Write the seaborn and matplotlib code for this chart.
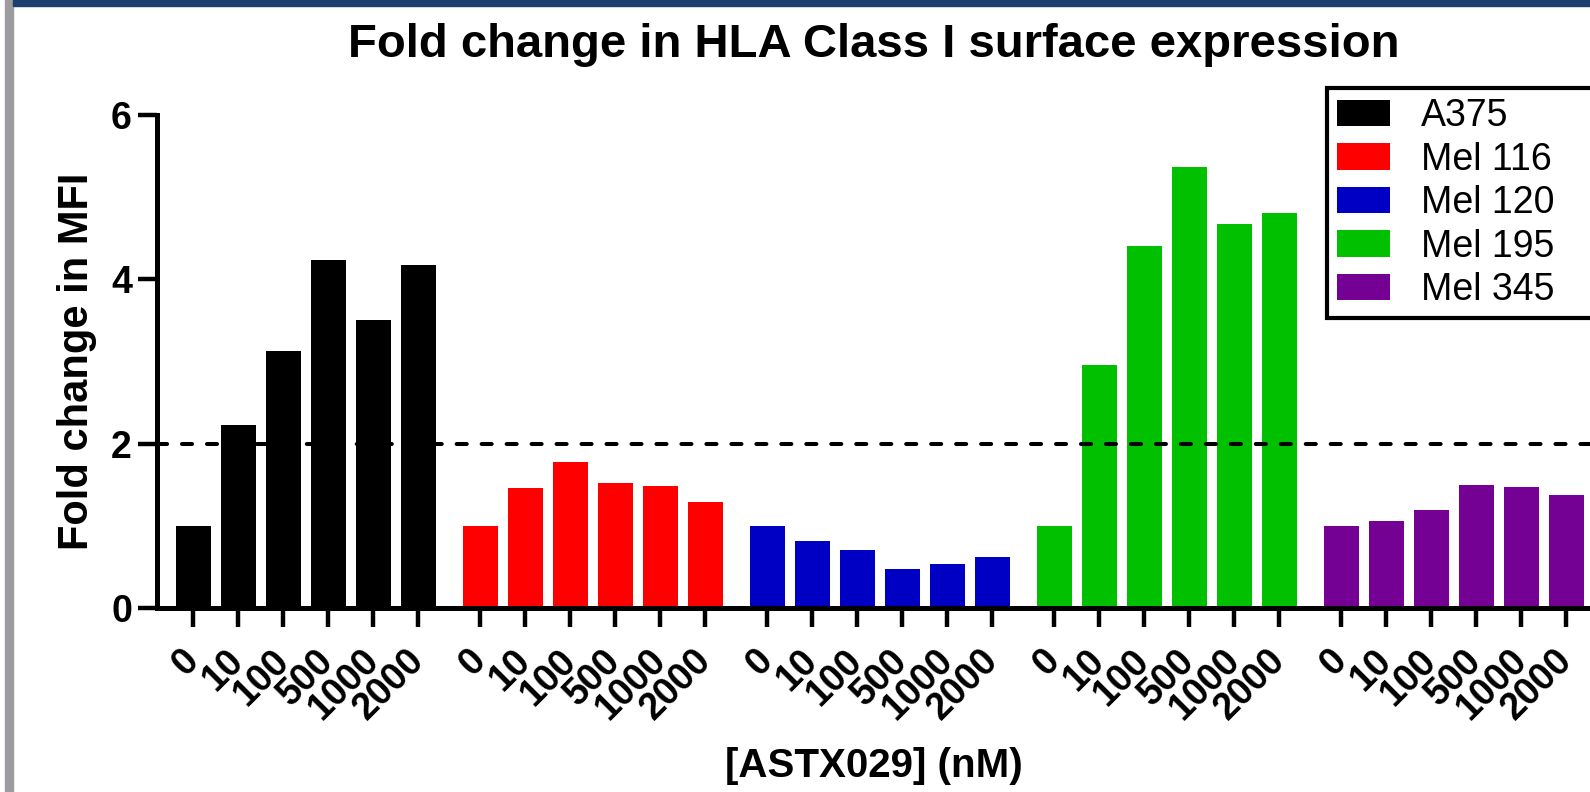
import numpy as np
import pandas as pd
import matplotlib
matplotlib.use("Agg")
import matplotlib.pyplot as plt
from matplotlib.patches import Rectangle
from matplotlib.transforms import ScaledTranslation
import seaborn as sns

# ---- data ----
cell_lines = ["A375", "Mel 116", "Mel 120", "Mel 195", "Mel 345"]
doses = ["0", "10", "100", "500", "1000", "2000"]
a375 = [1.00, 2.23, 3.13, 4.23, 3.51, 4.18]
mel116 = [1.00, 1.46, 1.78, 1.52, 1.49, 1.29]
mel120 = [1.00, 0.82, 0.71, 0.48, 0.54, 0.62]
mel195 = [1.00, 2.96, 4.41, 5.37, 4.67, 4.81]
mel345 = [1.00, 1.06, 1.19, 1.50, 1.47, 1.37]
colors = ["#000000", "#FF0000", "#0000C4", "#00C000", "#750094"]
threshold = 2.0

series = [a375, mel116, mel120, mel195, mel345]
group_step = len(doses) + 0.375
rows = []
for g, (name, vals) in enumerate(zip(cell_lines, series)):
    for i, (d, v) in enumerate(zip(doses, vals)):
        rows.append({"cell": name, "dose": d, "pos": g * group_step + i, "value": v})
df = pd.DataFrame(rows)

sns.set_theme(style="white")
plt.rcParams["font.family"] = ["Liberation Sans", "DejaVu Sans"]
plt.rcParams["text.color"] = "black"
plt.rcParams["axes.labelcolor"] = "black"
plt.rcParams["xtick.color"] = "black"
plt.rcParams["ytick.color"] = "black"

W, H = 1590, 792
fig = plt.figure(figsize=(W / 100, H / 100), dpi=100)
ax_left, ax_right, ax_bottom, ax_top = 157, 1590, 608, 115
ax = fig.add_axes([ax_left / W, 1 - ax_bottom / H, (ax_right - ax_left) / W, (ax_bottom - ax_top) / H])

sns.barplot(data=df, x="pos", y="value", hue="cell", hue_order=cell_lines,
            palette=colors, native_scale=True, dodge=False, width=0.78,
            saturation=1, errorbar=None, ax=ax, linewidth=0)

ax.axhline(threshold, color="black", lw=2.9, dashes=(2.5, 3.7),
           dash_capstyle="round", zorder=3)

ax.set_ylim(0, 6)
ax.set_yticks([0, 2, 4, 6])
ax.set_xlim(-0.81, 31.03)
ax.set_xticks(df["pos"].values)
ax.set_xticklabels(df["dose"].tolist(), rotation=45, ha="right", va="center",
                   rotation_mode="anchor", fontsize=27, fontweight="bold")
shift = ScaledTranslation(4 / 100, 0, fig.dpi_scale_trans)
for t in ax.get_xticklabels():
    t.set_transform(t.get_transform() + shift)
for t in ax.get_yticklabels():
    t.set_fontsize(27)
    t.set_fontweight("bold")

for s in ["top", "right"]:
    ax.spines[s].set_visible(False)
for s in ["left", "bottom"]:
    ax.spines[s].set_linewidth(3.6)
    ax.spines[s].set_color("black")
ax.tick_params(axis="both", which="major", direction="out", length=14, width=3.2,
               color="black", left=True, bottom=True)
ax.tick_params(axis="y", pad=4)
ax.tick_params(axis="x", pad=20)

ax.set_ylabel("Fold change in MFI", fontsize=30, fontweight="bold")
ax.yaxis.set_label_coords((97 - ax_left) / (ax_right - ax_left), 0.5)
ax.set_xlabel("[ASTX029] (nM)", fontsize=29, fontweight="bold")
ax.xaxis.set_label_coords(0.5, -(747 - ax_bottom) / (ax_bottom - ax_top))
ax.set_title("Fold change in HLA Class I surface expression", fontsize=34,
             fontweight="bold", y=1 + (ax_top - 57) / (ax_bottom - ax_top),
             va="baseline", pad=0)

# legend
old = ax.get_legend()
handles = old.legend_handles
labels = [t.get_text() for t in old.texts]
old.remove()
leg = fig.legend(handles, labels, loc="upper left",
                 bbox_to_anchor=(1327 / W, 1 - 88 / H, 0.2, 0.0),
                 bbox_transform=fig.transFigure, mode="expand",
                 prop={"family": ["Liberation Sans"], "size": 27},
                 handlelength=1.41, handleheight=0.72, handletextpad=0.83,
                 labelspacing=0.2, borderpad=0.27, borderaxespad=0,
                 frameon=True, fancybox=False, edgecolor="black")
leg.get_frame().set_linewidth(3.0)
leg.get_frame().set_facecolor("white")
leg.get_frame().set_alpha(1)

# page decorations (screenshot frame)
fig.patches.append(Rectangle((5 / W, 0), 8 / W, 1, transform=fig.transFigure,
                             color="#9C9CA0", zorder=0))
fig.patches.append(Rectangle((13 / W, 1 - 5.5 / H), 1, 5.5 / H, transform=fig.transFigure,
                             color="#1C3F6F", zorder=0))

fig.savefig("out.png", dpi=100, facecolor="white")
